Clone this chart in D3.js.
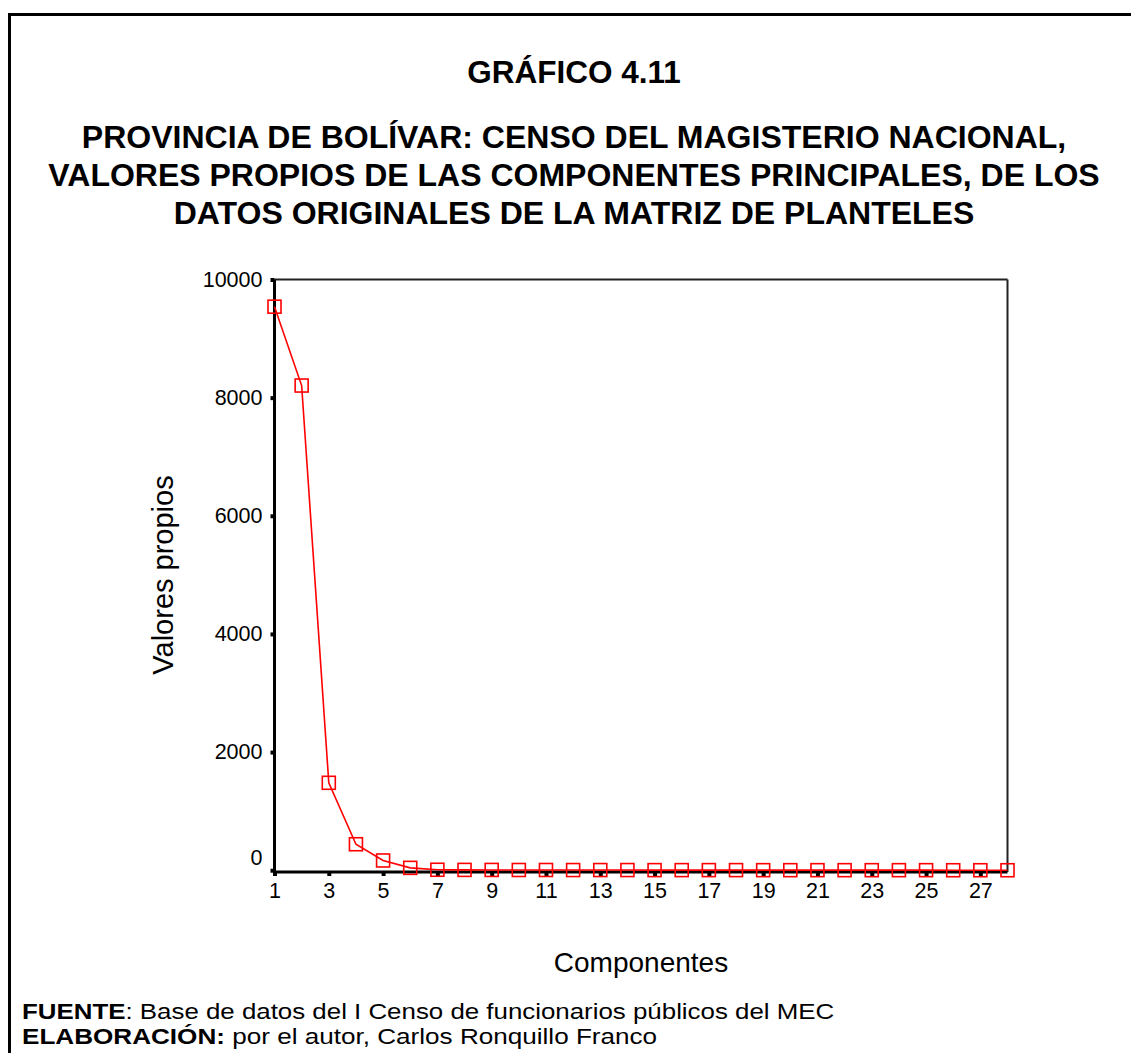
<!DOCTYPE html>
<html><head><meta charset="utf-8">
<script src="https://cdn.jsdelivr.net/npm/d3@7"></script>
<style>
body{margin:0;background:#fff;}
svg{display:block;font-family:"Liberation Sans",Arial,sans-serif;}
</style></head>
<body>
<svg id="chart" width="1131" height="1053"></svg>
<script>
const titleLines = ["GRÁFICO 4.11"];
const subtitleLines = [
  "PROVINCIA DE BOLÍVAR: CENSO DEL MAGISTERIO NACIONAL,",
  "VALORES PROPIOS DE LAS COMPONENTES PRINCIPALES, DE LOS",
  "DATOS ORIGINALES DE LA MATRIZ DE PLANTELES"
];
const components = d3.range(1, 29);
const eigenvalues = [9540, 8205, 1480, 440, 165, 40, 8, 6, 5, 4, 4, 3, 3, 3, 2, 2, 2, 2, 1, 1, 1, 1, 1, 1, 1, 0, 0, 0];
const yTicks = [0, 2000, 4000, 6000, 8000, 10000];
const xTicks = [1, 3, 5, 7, 9, 11, 13, 15, 17, 19, 21, 23, 25, 27];
const xLabel = "Componentes";
const yLabel = "Valores propios";
const source = ["FUENTE", ": Base de datos del I Censo de funcionarios públicos del MEC"];
const author = ["ELABORACIÓN:", " por el autor, Carlos Ronquillo Franco"];

const svg = d3.select("#chart");
// outer frame
svg.append("path").attr("d", "M9.5,1060 V14.5 H1140").attr("fill","none").attr("stroke","#000").attr("stroke-width",3);

const titleX = 574;
svg.append("text").attr("x", titleX).attr("y", 83).attr("text-anchor","middle")
  .attr("font-weight","bold").attr("font-size", 31.5).text(titleLines[0]);
subtitleLines.forEach((t,i)=>{
  svg.append("text").attr("x", titleX).attr("y", 148 + i*38).attr("text-anchor","middle")
    .attr("font-weight","bold").attr("font-size", 32).text(t);
});

const L = 274.5, R = 1007.5, T = 279.5, B = 872;
const x = d3.scaleLinear().domain([1, 28]).range([L, R]);
const y = d3.scaleLinear().domain([-30, 10000]).range([B, T]);

// frame of plot
svg.append("line").attr("x1",L).attr("x2",R).attr("y1",T).attr("y2",T).attr("stroke","#222").attr("stroke-width",2);
svg.append("line").attr("x1",R).attr("x2",R).attr("y1",T).attr("y2",B).attr("stroke","#222").attr("stroke-width",2);

// y axis
const yAxis = svg.append("g").attr("transform", `translate(${L},0)`)
  .call(d3.axisLeft(y).tickValues(yTicks).tickSize(4).tickPadding(8).tickFormat(d3.format("d")));
yAxis.select(".domain").remove();
yAxis.selectAll(".tick line").attr("stroke","#000").attr("stroke-width",4);
yAxis.selectAll(".tick text").attr("font-size",21.5).attr("fill","#000")
  .attr("font-family","Liberation Sans, Arial, sans-serif")
  .attr("dy", d => d === 0 ? "-0.28em" : "0.32em");

// x axis
const xAxis = svg.append("g").attr("transform", `translate(0,${B})`)
  .call(d3.axisBottom(x).tickValues(xTicks).tickSize(4).tickPadding(7).tickFormat(d3.format("d")));
xAxis.select(".domain").remove();
xAxis.selectAll(".tick line").attr("stroke","#000").attr("stroke-width",4);
xAxis.selectAll(".tick text").attr("font-size",21.5).attr("fill","#000")
  .attr("font-family","Liberation Sans, Arial, sans-serif");

// axis lines
svg.append("line").attr("x1",L).attr("x2",L).attr("y1",T).attr("y2",B+1).attr("stroke","#000").attr("stroke-width",3);
svg.append("line").attr("x1",L-1).attr("x2",R).attr("y1",B).attr("y2",B).attr("stroke","#000").attr("stroke-width",3);

// series
const data = components.map((c,i)=>({c, v: eigenvalues[i]}));
svg.append("path").datum(data)
  .attr("d", d3.line().x(d=>x(d.c)).y(d=>y(d.v)))
  .attr("fill","none").attr("stroke","#ff0000").attr("stroke-width",1.6);
const s = 13;
svg.selectAll("rect.mk").data(data).enter().append("rect").attr("class","mk")
  .attr("x", d=>x(d.c)-s/2).attr("y", d=>y(d.v)-s/2).attr("width",s).attr("height",s)
  .attr("fill","none").attr("stroke","#ff0000").attr("stroke-width",1.6);

// axis titles
svg.append("text").attr("x", 641).attr("y", 972).attr("text-anchor","middle").attr("font-size",28).text(xLabel);
svg.append("text").attr("transform","translate(173,575) rotate(-90)").attr("text-anchor","middle").attr("font-size",29).text(yLabel);

// footer (slightly widened text as in the reference)
const f1 = svg.append("g").attr("transform","translate(22,1019) scale(1.15,1)")
  .append("text").attr("x",0).attr("y",0).attr("font-size",22.5);
f1.append("tspan").attr("font-weight","bold").text(source[0]);
f1.append("tspan").text(source[1]);
const f2 = svg.append("g").attr("transform","translate(22,1044) scale(1.16,1)")
  .append("text").attr("x",0).attr("y",0).attr("font-size",22.5);
f2.append("tspan").attr("font-weight","bold").text(author[0]);
f2.append("tspan").text(author[1]);
</script>
</body></html>
